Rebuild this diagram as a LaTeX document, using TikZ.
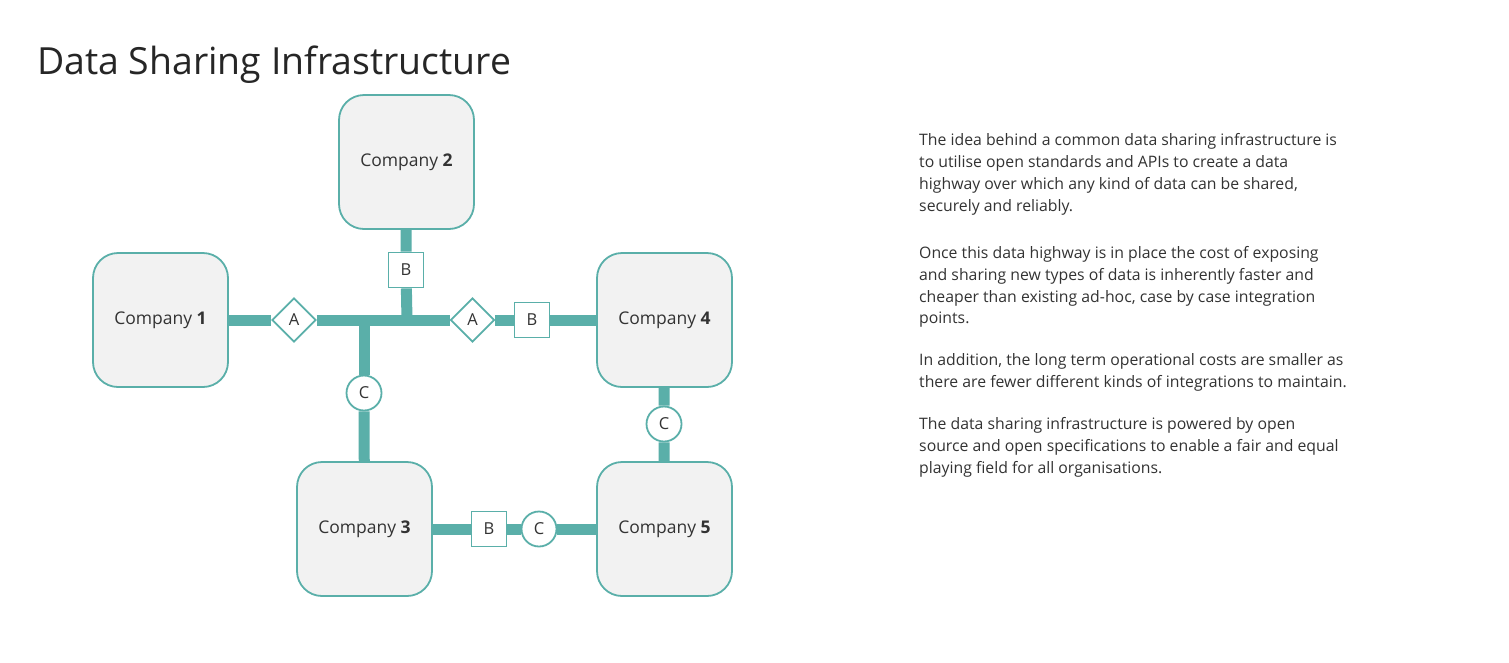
\documentclass[tikz,border=0pt]{standalone}
\usepackage{fontspec}
\setmainfont{Open Sans}
\usetikzlibrary{shapes.geometric}
\definecolor{teal}{HTML}{5AAFA9}
\definecolor{boxfill}{HTML}{F2F2F2}
\definecolor{txt}{HTML}{333333}
\tikzset{
  company/.style={draw=teal, line width=1.8pt, fill=boxfill, rounded corners=25pt,
    minimum width=135pt, minimum height=134pt, inner sep=0pt, text=txt,
    font=\fontsize{17.5}{20}\selectfont},
  sq/.style={draw=teal, line width=1.8pt, fill=white, minimum size=35pt, inner sep=0pt,
    text=txt, font=\fontsize{16.5}{19}\selectfont},
  circ/.style={draw=teal, line width=1.8pt, fill=white, circle, minimum size=35pt, inner sep=0pt,
    text=txt, font=\fontsize{16.5}{19}\selectfont},
  dia/.style={draw=teal, line width=1.8pt, fill=white, diamond, minimum size=44pt, inner sep=0pt,
    text=txt, font=\fontsize{16.5}{19}\selectfont},
  link/.style={draw=teal, line width=11pt},
  para/.style={anchor=north west, align=left, inner sep=0pt, text=txt,
    font=\fontsize{15.8}{21.9}\selectfont},
}
\begin{document}
\begin{tikzpicture}[x=1pt,y=-1pt]
\useasboundingbox[fill=white] (0,0) rectangle (1509,662);
\node[anchor=base west, inner sep=0pt, text=black!85, font=\fontsize{37.4}{44}\selectfont] (title) at (37,74) {Data Sharing Infrastructure};

\node[company] (c1) at (160.5,320) {Company \textbf{1}};
\node[company] (c2) at (406.5,162) {Company \textbf{2}};
\node[company] (c3) at (364.5,529) {Company \textbf{3}};
\node[company] (c4) at (664.5,320) {Company \textbf{4}};
\node[company] (c5) at (664.5,529) {Company \textbf{5}};

\node[dia] (a1) at (294,320) {A};
\node[dia] (a2) at (472.5,320) {A};
\node[sq] (b1) at (406,270) {B};
\node[sq] (b2) at (532,320) {B};
\node[circ] (cc1) at (364,393) {C};
\node[circ] (cc2) at (664,424) {C};
\node[sq] (b3) at (489,529) {B};
\node[circ] (cc3) at (539,529) {C};

\coordinate (j1) at (407,320);
\coordinate (j2) at (364,320);

\draw[link] (c1) -- (a1);
\draw[link] (a1) -- (a2);
\draw[link] (a2) -- (b2);
\draw[link] (b2) -- (c4);
\draw[link] (j1) -- (b1);
\draw[link] (b1) -- (c2);
\draw[link] (j2) -- (cc1);
\draw[link] (cc1) -- (c3);
\draw[link] (c4) -- (cc2);
\draw[link] (cc2) -- (c5);
\draw[link] (c3) -- (b3);
\draw[link] (b3) -- (cc3);
\draw[link] (cc3) -- (c5);

\node[para] (p1) at (919,133.5) {The idea behind a common data sharing infrastructure is\\to utilise open standards and APIs to create a data\\highway over which any kind of data can be shared,\\securely and reliably.};
\node[para] (p2) at (919,246) {Once this data highway is in place the cost of exposing\\and sharing new types of data is inherently faster and\\cheaper than existing ad-hoc, case by case integration\\points.};
\node[para] (p3) at (919,353) {In addition, the long term operational costs are smaller as\\there are fewer different kinds of integrations to maintain.};
\node[para] (p4) at (919,417.5) {The data sharing infrastructure is powered by open\\source and open specifications to enable a fair and equal\\playing field for all organisations.};
\end{tikzpicture}
\end{document}
